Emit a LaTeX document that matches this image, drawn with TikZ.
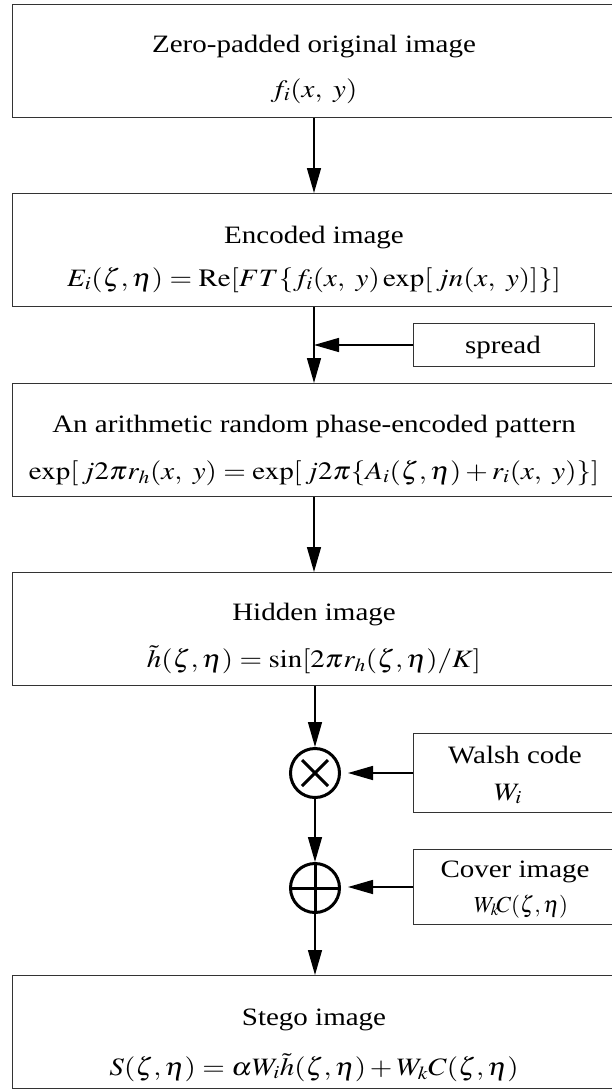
\documentclass[tikz,border=0pt]{standalone}
\usepackage{mathptmx}
\usepackage{fontspec}
\setmainfont{Liberation Serif}
\usetikzlibrary{arrows.meta,calc}
\newcommand{\wider}[1]{\scalebox{1.16}[1]{#1}}
\tikzset{
  box/.style={draw=black!80, line width=1pt, inner sep=0pt, anchor=north west},
  txt/.style={anchor=base, inner sep=0pt, font=\fontsize{25}{30}\selectfont},
  smalltxt/.style={anchor=base, inner sep=0pt, font=\fontsize{23}{27}\selectfont},
  arr/.style={line width=1.5pt, -{Triangle[length=25pt,width=14pt]}},
  op/.style={circle, draw, line width=3pt, minimum size=49pt, inner sep=0pt},
  opline/.style={line width=3pt}
}
\begin{document}
\begin{tikzpicture}[x=1pt,y=-1pt]
\useasboundingbox (0,0) rectangle (612,1090);
\fill[white] (0,0) rectangle (612,1090);
\coordinate (col) at (314,0);
% main boxes
\node[box, minimum width=604pt, minimum height=113pt] (b1) at (12,4) {};
\node[box, minimum width=604pt, minimum height=113pt] (b2) at (12,193) {};
\node[box, minimum width=604pt, minimum height=113pt] (b3) at (12,383) {};
\node[box, minimum width=604pt, minimum height=113pt] (b4) at (12,572) {};
\node[box, minimum width=604pt, minimum height=113pt] (b5) at (12,975) {};
% side boxes
\node[box, minimum width=181pt, minimum height=43pt] (sp) at (413,323) {};
\node[box, minimum width=203pt, minimum height=79pt] (wa) at (413,733) {};
\node[box, minimum width=203pt, minimum height=75pt] (co) at (413,849) {};
% texts
\node[txt] (t1a) at (314,52) {\wider{Zero-padded original image}};
\node[txt] (t1b) at (314,97) {\wider{$f_i(x,\ y)$}};
\node[txt] (t2a) at (314,243) {\wider{Encoded image}};
\node[txt] (t2b) at (314,286) {\wider{$E_i(\zeta,\eta)=\mathrm{Re}[FT\{f_i(x,\ y)\exp[\,jn(x,\ y)]\}]$}};
\node[txt] (t3a) at (314,432) {\wider{An arithmetic random phase-encoded pattern}};
\node[txt] (t3b) at (314,479) {\wider{$\exp[\,j2\pi r_h(x,\ y)=\exp[\,j2\pi\{A_i(\zeta,\eta)+r_i(x,\ y)\}]$}};
\node[txt] (t4a) at (314,620) {\wider{Hidden image}};
\node[txt] (t4b) at (314,667) {\wider{$\tilde{h}(\zeta,\eta)=\sin[2\pi r_h(\zeta,\eta)/K]$}};
\node[txt] (t5a) at (314,1025) {\wider{Stego image}};
\node[txt] (t5b) at (314,1075) {\wider{$S(\zeta,\eta)=\alpha W_i\tilde{h}(\zeta,\eta)+W_kC(\zeta,\eta)$}};
\node[txt] (tsp) at (503,353) {\wider{spread}};
\node[txt] (twa) at (515,763) {\wider{Walsh code}};
\node[txt] (twb) at (508,800) {\wider{$W_i$}};
\node[txt] (tca) at (515,877) {\wider{Cover image}};
\node[smalltxt] (tcb) at (521,912) {$W_k\!C(\zeta,\eta)$};
% operators
\node[op] (mul) at (315,773) {};
\draw[opline] (mul.center) +(-13,-13) -- +(13,13);
\draw[opline] (mul.center) +(-13,13) -- +(13,-13);
\node[op] (add) at (315,888) {};
\draw[opline] (add.north) -- (add.south);
\draw[opline] (add.west) -- (add.east);
% connectors
\coordinate (j1) at (col |- sp.west);
\draw[arr] (b1.south -| col) -- (b2.north -| col);
\draw[arr] (b2.south -| col) -- (b3.north -| col);
\draw[arr] (sp.west) -- (j1);
\draw[arr] (b3.south -| col) -- (b4.north -| col);
\draw[arr] (b4.south -| mul.north) -- (mul.north);
\draw[arr, shorten >=7pt] (wa.west) -- (wa.west -| mul.east);
\draw[arr] (mul.south) -- (add.north);
\draw[arr, shorten >=7pt] (co.west) -- (co.west -| add.east);
\draw[arr] (add.south) -- (b5.north -| add.south);
\end{tikzpicture}
\end{document}
